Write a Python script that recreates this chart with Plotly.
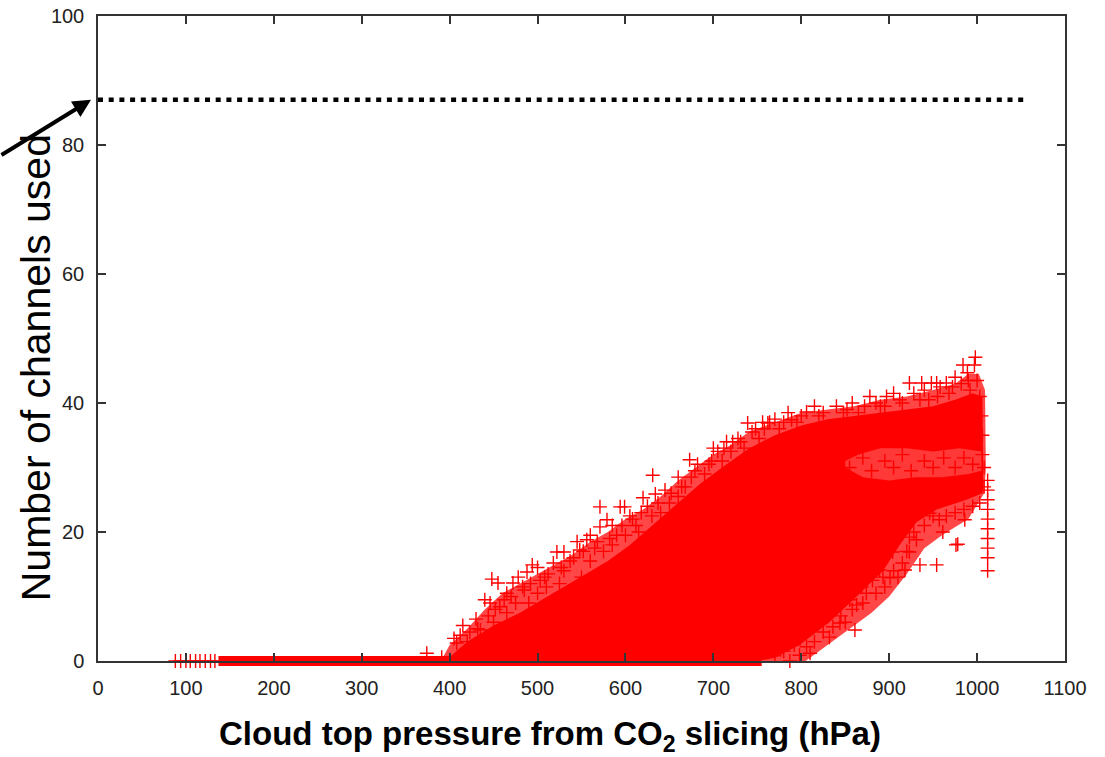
import plotly.graph_objects as go

# ---------------- data ----------------
# retrievals that used zero (or almost zero) channels, drawn one by one
ZERO_X = [88, 94, 100, 105, 111, 116, 122, 128, 133, 374, 391, 787, 798]
ZERO_Y = [0, 0, 0, 0, 0, 0, 0, 0, 0, 1.2, 0.6, 0, 0.9]
# dense run of zero-channel retrievals (start, end in hPa)
ZERO_BAND = [137, 755]

# outer envelope of the scatter cloud (partly filled by markers)
OUTER_X = [390, 400, 420, 440, 460, 480, 500, 520, 540, 560, 580, 600, 620, 640, 660, 680,
           700, 720, 740, 760, 780, 800, 830, 860, 890, 920, 950, 975, 990, 1002, 1009, 1010,
           1008, 990, 960, 940, 920, 900, 880, 860, 840, 820, 805, 390]
OUTER_Y = [0, 2.5, 5, 8, 10.5, 12, 13.5, 15, 16.5, 18.5, 20, 22, 23.5, 25.5, 28, 30,
           32, 33.5, 35.5, 36.5, 37.5, 38.5, 39, 39.5, 40.5, 41, 42, 43, 44.5, 44.5, 42, 30,
           26, 22, 19.5, 17.5, 13.5, 10, 7.5, 5.5, 3.5, 1.5, 0, 0]

# saturated core of the cloud
CORE_X = [395, 420, 450, 480, 505, 530, 555, 580, 605, 630, 655, 685, 715, 741, 770, 800,
          830, 860, 890, 920, 950, 975, 995, 1006, 1007, 1007, 1006, 988, 954, 931, 912,
          893, 863, 832, 798, 770, 750, 395]
CORE_Y = [0, 3, 5.5, 7.5, 9.5, 11.5, 13.5, 15.5, 18, 21, 24, 27.5, 30.5, 33, 35, 36.5,
          37.5, 38, 38.5, 39, 39.5, 40.5, 41.5, 41, 33, 27, 26, 25, 23.5, 21.5, 18,
          14, 10, 6, 2.5, 0.5, 0, 0]

# thinner band inside the core (850-1005 hPa, 28-33 channels)
GAP_X = [850, 870, 900, 930, 960, 990, 1005, 1005, 980, 950, 920, 890, 865, 850]
GAP_Y = [30, 28.5, 28, 28.5, 28.5, 29, 29.5, 32.5, 33, 32.5, 33, 33, 32, 31]

# individual retrievals visible as separate crosses
PTS_X = [631, 634, 571, 594, 599, 579, 571, 556, 548, 522, 530, 494, 488, 518, 455, 472,
         446, 457, 412, 423, 435, 408, 448,
         620, 739, 762, 673, 700, 715, 722, 789, 806, 836, 832, 806,
         878, 897, 923, 937, 948, 984, 997, 998, 989, 878, 904, 923, 923, 931, 915, 918,
         935, 954, 961, 976, 986, 946, 957,
         1012, 1012, 1012, 1012, 1012, 1012, 1012, 1012, 1012, 1012,
         861, 863, 855, 881, 893, 901, 889, 869, 874,
         978, 844, 810, 764, 756, 954, 965,
         405, 415, 430, 440, 465, 478, 485, 500, 508, 537, 545, 560, 565, 585, 590, 605,
         612, 625, 645, 650, 660, 668, 682, 690, 705, 710, 728, 735, 748, 752, 770, 775,
         785, 795, 815, 820, 840, 848, 858, 865, 885, 895, 905, 912, 928, 940, 945, 958,
         968, 975, 982, 992, 1000, 1003, 1005, 1006, 1006, 1008, 1008,
         770, 780, 792, 815, 825, 845, 850, 858, 870, 885, 895, 905, 910, 920, 928, 940,
         950, 965, 975, 985, 995, 1003,
         450, 465, 475, 490, 500, 510, 525, 530, 550, 560, 575, 585, 600, 615, 630, 640,
         660, 675, 695, 720,
         855, 870, 880, 895, 905, 915, 925, 940, 950, 962, 975, 985, 995,
         420, 432, 444, 452, 462, 470, 483, 492, 503, 512, 527, 541, 552, 568, 582, 596,
         608, 618, 637, 652, 664, 679, 698, 712, 731, 744, 758, 780, 800, 825, 852, 872,
         890, 915, 935, 955, 972, 990]
PTS_Y = [28.8, 25.9, 23.9, 23.9, 23.9, 21.9, 20.8, 18.8, 17.2, 16.9, 16.9, 14.9, 13.8, 15.2, 12.1, 12.1,
         9, 8.4, 4.0, 4.5, 4.8, 2.8, 12.7,
         25.3, 36.9, 36.9, 31.2, 33, 34, 34, 37.4, 38.6, 5.3, 3.7, 2.2,
         41, 41, 43.1, 43.1, 43.1, 45.9, 45.9, 47.1, 44.7, 20.8, 16.9, 16.9, 19.2, 18.8, 15.2, 14.1,
         14.9, 14.9, 20, 18, 21.9, 22.9, 21.9,
         28, 26.5, 25, 23.5, 22, 20.5, 19, 17.5, 16, 14,
         4.8, 8.7, 9.5, 12.5, 13, 12.9, 14.1, 11.5, 10.5,
         18.1, 5.9, 1.2, 37, 37, 43.1, 43.1,
         3.5, 5.5, 6.5, 9.5, 10.5, 13, 11, 14.5, 13, 15.5, 18.5, 19.5, 17.5, 21, 19.5, 22.5,
         21, 24, 26.5, 24.5, 28.5, 27, 30.5, 29, 32.5, 31, 34.5, 33, 36, 34.5, 37.5, 36,
         38.5, 37, 39.5, 38, 39.5, 38.5, 40, 38.5, 40, 39.5, 41.5, 40.5, 41.5, 42, 40.5, 42.5,
         41.5, 44, 43, 42, 43.5, 41, 38, 35, 32, 30, 27,
         0.8, 1.5, 2.5, 3, 4.5, 7, 6, 8, 9, 10.5, 11.5, 14, 13, 17, 20, 21,
         22.5, 22.5, 23, 23.5, 24, 24.5,
         6, 7.5, 9, 9, 10.5, 11.5, 12, 14, 13, 15.5, 17, 18, 19.5, 20, 22.5, 23,
         25.5, 28.5, 30.5, 32.5,
         30, 31.5, 29.5, 31, 30, 32, 29.5, 31, 30, 31.5, 30, 31.5, 30.5,
         3, 5, 7, 8, 9.5, 10, 11.5, 12, 12.5, 13.5, 14.5, 16, 17, 18.5, 19, 21,
         22, 23, 24.5, 26, 27, 29.5, 31, 33, 34, 35.5, 36, 37, 38, 38.5, 39, 39.5,
         39.5, 40, 40.5, 41, 42.5, 43.5]

# maximum number of channels available (dotted line)
MAX_CHANNELS = 87
MAX_LINE_X = [0, 1057]

X_TICKS = [0, 100, 200, 300, 400, 500, 600, 700, 800, 900, 1000, 1100]
Y_TICKS = [0, 20, 40, 60, 80, 100]

RED = "#ff0000"
FONT = "Liberation Sans, Arial, Helvetica, sans-serif"

fig = go.Figure()

fig.add_trace(go.Scatter(x=OUTER_X, y=OUTER_Y, mode="lines", fill="toself",
                         fillcolor="rgba(255,0,0,0.72)", line=dict(width=0),
                         hoverinfo="skip", showlegend=False))
fig.add_trace(go.Scatter(x=CORE_X, y=CORE_Y, mode="lines", fill="toself",
                         fillcolor=RED, line=dict(width=0),
                         hoverinfo="skip", showlegend=False))
fig.add_trace(go.Scatter(x=GAP_X, y=GAP_Y, mode="lines", fill="toself",
                         fillcolor="rgba(255,255,255,0.22)", line=dict(width=0),
                         hoverinfo="skip", showlegend=False))
cross = dict(symbol="cross-thin-open", size=10, color=RED, line=dict(width=1.4, color=RED))
fig.add_trace(go.Scatter(x=PTS_X, y=PTS_Y, mode="markers", cliponaxis=False,
                         marker=cross, showlegend=False))
fig.add_trace(go.Scatter(x=ZERO_X, y=ZERO_Y, mode="markers", cliponaxis=False,
                         marker=cross, showlegend=False))

# dense band of zero-channel points (yref paper so it is not cut at the axis)
fig.add_shape(type="line", xref="x", yref="paper", x0=ZERO_BAND[0], x1=ZERO_BAND[1],
              y0=0, y1=0, line=dict(color=RED, width=10), layer="below")

# dotted line of maximum channels
fig.add_shape(type="line", xref="x", yref="y", x0=MAX_LINE_X[0], x1=MAX_LINE_X[1],
              y0=MAX_CHANNELS, y1=MAX_CHANNELS,
              line=dict(color="black", width=4.5, dash="5px,5.7px"))

# arrow pointing at the dotted line
fig.add_annotation(x=-0.0072, xref="paper", y=MAX_CHANNELS, yref="y", text="",
                   showarrow=True, arrowhead=2, arrowsize=0.9, arrowwidth=4,
                   arrowcolor="black", ax=-100, ay=56)

fig.add_annotation(text="Number of channels used", textangle=-90,
                   x=-0.064, xref="paper", y=0.454, yref="paper",
                   xanchor="center", yanchor="middle", showarrow=False,
                   font=dict(family=FONT, size=41, color="black"))

fig.add_annotation(text="<b>Cloud top pressure from CO<sub>2</sub> slicing (hPa)</b>",
                   x=0.467, xref="paper", y=-0.116, yref="paper",
                   xanchor="center", yanchor="middle", showarrow=False,
                   font=dict(family=FONT, size=33, color="black"))

axis_common = dict(showgrid=False, zeroline=False, showline=True, linecolor="#333333",
                   linewidth=1.5, ticks="inside", ticklen=8, tickwidth=1.5,
                   tickcolor="#333333", mirror="ticks", layer="above traces",
                   automargin=False,
                   tickfont=dict(family=FONT, size=20, color="#222222"),
                   ticklabelstandoff=8)

fig.update_xaxes(range=[0, 1100], tickvals=X_TICKS, **axis_common)
fig.update_yaxes(range=[0, 100], tickvals=Y_TICKS, **axis_common)

fig.update_layout(width=1105, height=757, margin=dict(l=98, r=40, t=16, b=96),
                  plot_bgcolor="white", paper_bgcolor="white", showlegend=False)

fig.write_html("out.html")
